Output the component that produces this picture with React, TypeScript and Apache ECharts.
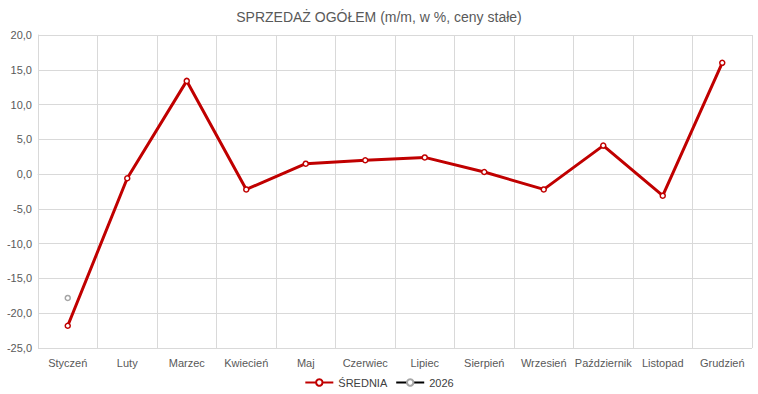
import React, { useEffect, useRef } from "react";
import * as echarts from "echarts";

const months = ["Styczeń", "Luty", "Marzec", "Kwiecień", "Maj", "Czerwiec", "Lipiec", "Sierpień", "Wrzesień", "Październik", "Listopad", "Grudzień"];
const srednia = [-21.8, -0.6, 13.4, -2.2, 1.5, 2.0, 2.4, 0.3, -2.2, 4.1, -3.1, 16.0];
const y2026 = [-17.8, null, null, null, null, null, null, null, null, null, null, null];

export default function App() {
  const ref = useRef<HTMLDivElement>(null);
  useEffect(() => {
    const chart = echarts.init(ref.current!, null, { renderer: "svg" });
    const font = "Arial, 'Liberation Sans', sans-serif";
    chart.setOption({
      animation: false,
      textStyle: { fontFamily: font },
      title: {
        text: "SPRZEDAŻ OGÓŁEM (m/m, w %, ceny stałe)",
        left: "center",
        top: 5,
        textStyle: { fontSize: 14, fontWeight: "normal", color: "#595959", fontFamily: font },
      },
      legend: {
        bottom: 1,
        left: "center",
        itemWidth: 28,
        itemHeight: 8,
        itemGap: 8,
        textStyle: { fontSize: 11, color: "#404040", fontFamily: font },
        data: ["ŚREDNIA", "2026"],
      },
      grid: { left: 38, right: 6, top: 35, bottom: 46 },
      xAxis: {
        type: "category",
        data: months,
        boundaryGap: true,
        axisLine: { show: true, lineStyle: { color: "#d9d9d9" } },
        axisTick: { show: false },
        splitLine: { show: true, lineStyle: { color: "#d9d9d9" } },
        axisLabel: { fontSize: 11, color: "#595959", margin: 9, interval: 0, fontFamily: font },
      },
      yAxis: {
        type: "value",
        min: -25,
        max: 20,
        interval: 5,
        axisLine: { show: true, lineStyle: { color: "#d9d9d9" } },
        axisTick: { show: false },
        splitLine: { show: true, lineStyle: { color: "#d9d9d9" } },
        axisLabel: {
          fontSize: 11,
          color: "#595959",
          margin: 6,
          fontFamily: font,
          formatter: (v: number) => v.toFixed(1).replace(".", ","),
        },
      },
      series: [
        {
          name: "ŚREDNIA",
          type: "line",
          data: srednia,
          symbol: "circle",
          symbolSize: 5,
          showAllSymbol: true,
          lineStyle: { color: "#c00000", width: 3 },
          itemStyle: { color: "#ffffff", borderColor: "#c00000", borderWidth: 1.5 },
          z: 3,
        },
        {
          name: "2026",
          type: "line",
          data: y2026,
          symbol: "circle",
          symbolSize: 5,
          showAllSymbol: true,
          lineStyle: { color: "#000000", width: 3 },
          itemStyle: { color: "#ffffff", borderColor: "#a6a6a6", borderWidth: 1.5 },
          z: 2,
        },
      ],
    });
    return () => chart.dispose();
  }, []);
  return <div ref={ref} style={{ width: 758, height: 394, position: "absolute", left: 0, top: 0 }} />;
}
